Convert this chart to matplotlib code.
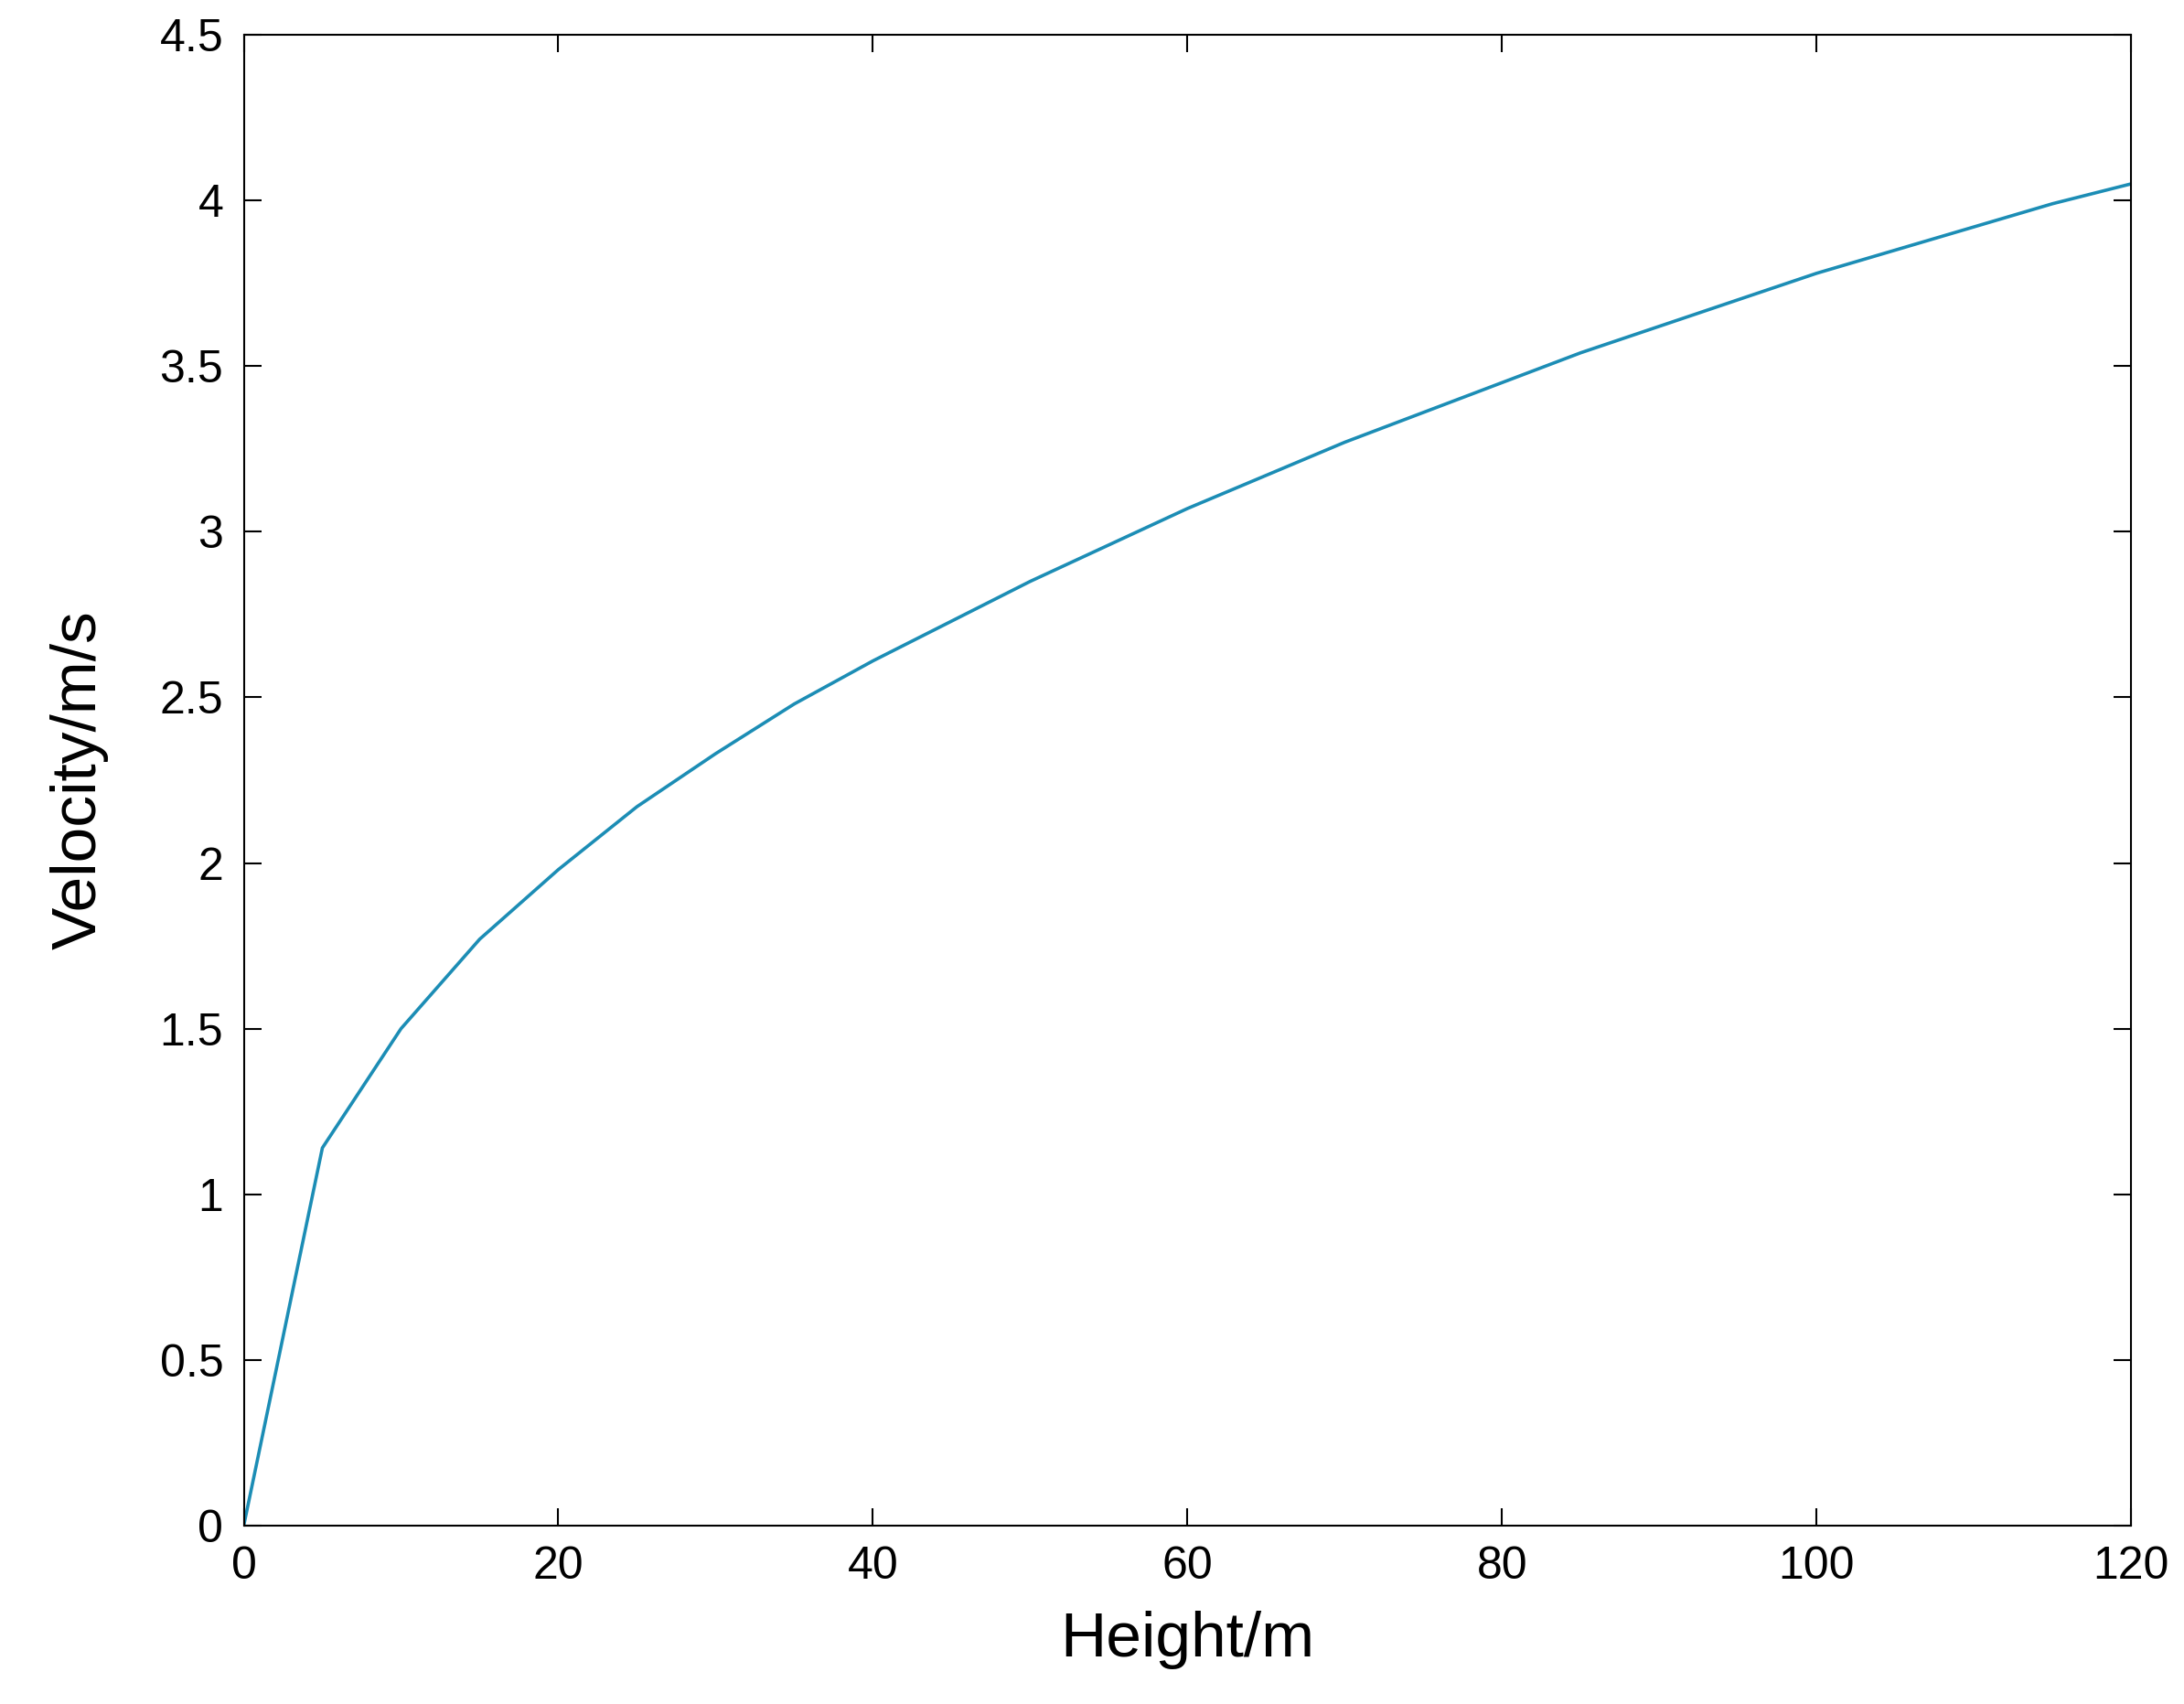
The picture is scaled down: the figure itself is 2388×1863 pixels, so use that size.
import matplotlib
matplotlib.use('Agg')
import matplotlib.pyplot as plt

# heights (m) and velocities (m/s)
height = [0, 5, 10, 15, 20, 25, 30, 35, 40, 45, 50, 55, 60, 65, 70, 75, 80,
          85, 90, 95, 100, 105, 110, 115, 120]
velocity = [0, 1.14, 1.50, 1.77, 1.98, 2.17, 2.33, 2.48, 2.61, 2.73, 2.85,
            2.96, 3.07, 3.17, 3.27, 3.36, 3.45, 3.54, 3.62, 3.70, 3.78,
            3.85, 3.92, 3.99, 4.05]
xticks = [0, 20, 40, 60, 80, 100, 120]
yticks = [0, 0.5, 1, 1.5, 2, 2.5, 3, 3.5, 4, 4.5]
ylabels = ['0', '0.5', '1', '1.5', '2', '2.5', '3', '3.5', '4', '4.5']

plt.rcParams['font.family'] = ['Liberation Sans', 'DejaVu Sans']

fig = plt.figure(figsize=(23.88, 18.63), dpi=100)
ax = fig.add_axes([0.1116, 0.1047, 0.8642, 0.8749])
ax.plot(height, velocity, color='#1c8db5', linewidth=2.6)
ax.set_xlim(0, 120)
ax.set_ylim(0, 4.5)
ax.set_xticks(xticks)
ax.set_yticks(yticks)
ax.set_yticklabels(ylabels)
ax.tick_params(direction='in', top=True, right=True, length=14, width=1.5,
               labelsize=36, pad=16)
for s in ax.spines.values():
    s.set_linewidth(1.5)
ax.set_xlabel('Height/m', fontsize=50, labelpad=18)
ax.set_ylabel('Velocity/m/s', fontsize=50, labelpad=40)

fig.savefig('out.png', dpi=100)
